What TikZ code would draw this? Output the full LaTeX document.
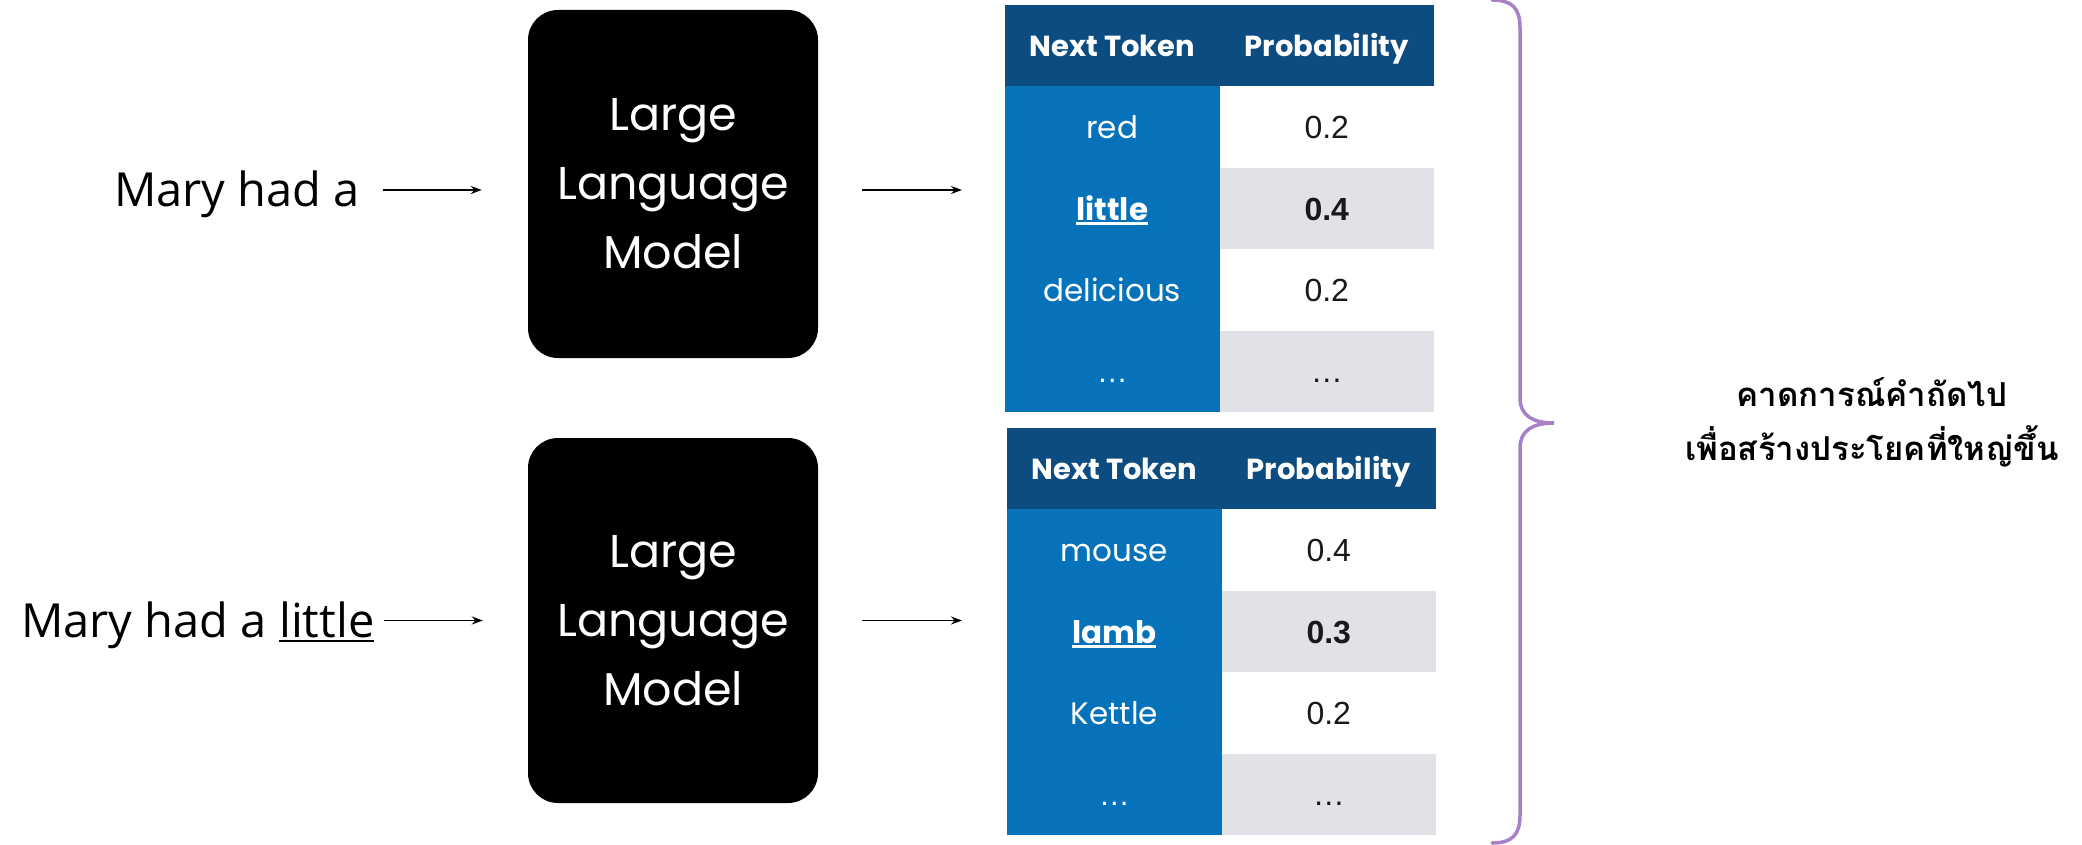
\documentclass[tikz,border=0pt]{standalone}
\usepackage{fontspec}
\setmainfont{Poppins}
\newfontfamily\maryfont{Open Sans}
\newfontfamily\numfont{Liberation Sans}
\newfontfamily\thaifont[Script=Thai]{Loma}
\usetikzlibrary{arrows.meta}
\definecolor{hdrblue}{RGB}{12,76,128}
\definecolor{colblue}{RGB}{6,114,186}
\definecolor{rowgray}{RGB}{225,226,231}
\definecolor{bracepurple}{RGB}{167,128,200}
\newcommand\ulx[3]{\setbox0\hbox{#1}\leavevmode\rlap{\rule[-#2]{\wd0}{#3}}\box0}
\tikzset{
  llm/.style={fill=black, rounded corners=30pt, minimum width=290pt, text=white, align=center,
    font=\fontsize{46}{69}\selectfont, inner sep=0pt},
  cell/.style={anchor=north west, minimum width=214.5pt, minimum height=81.4pt, inner sep=0pt, outer sep=0pt, text depth=0pt},
  hdr/.style={cell, fill=hdrblue, text=white, text height=21pt, font=\fontsize{29}{34}\selectfont\bfseries},
  tok/.style={cell, fill=colblue, text=white, text height=23pt, font=\fontsize{31}{36}\selectfont},
  pw/.style={cell, fill=white, text=black!90, text height=23pt, font=\numfont\fontsize{32}{36}\selectfont},
  pg/.style={pw, fill=rowgray},
  intext/.style={inner sep=0pt, anchor=base west, font=\maryfont\fontsize{47}{56}\selectfont},
  arr/.style={-{Stealth[length=11pt,width=8pt]}, line width=1.6pt},
  note/.style={align=center, inner sep=0pt, font=\thaifont\bfseries\fontsize{33}{54}\selectfont},
}
\begin{document}
\begin{tikzpicture}[x=1pt,y=-1pt]
\useasboundingbox[fill=white] (0,0) rectangle (2082,845);
% inputs
\node[intext] (in1) at (114,207) {Mary had a};
\node[intext] (in2) at (21,637) {Mary had a \ulx{little}{5pt}{2.5pt}};
% LLM boxes
\node[llm, minimum height=348pt] (box1) at (673,184) {Large\\Language\\Model};
\node[llm, minimum height=365pt] (box2) at (673,620.5) {Large\\Language\\Model};
% table 1
\node[hdr] (t1h1) at (1005,5) {Next Token};
\node[hdr] (t1h2) at (1219.5,5) {Probability};
\node[tok] (t1r1a) at (1005,86.4) {red};
\node[pw]  (t1r1b) at (1219.5,86.4) {0.2};
\node[tok] (t1r2a) at (1005,167.8) {\bfseries\ulx{little}{4.5pt}{2.5pt}};
\node[pg]  (t1r2b) at (1219.5,167.8) {\bfseries 0.4};
\node[tok] (t1r3a) at (1005,249.2) {delicious};
\node[pw]  (t1r3b) at (1219.5,249.2) {0.2};
\node[tok] (t1r4a) at (1005,330.6) {\numfont …};
\node[pg]  (t1r4b) at (1219.5,330.6) {…};
% table 2
\node[hdr] (t2h1) at (1007,428) {Next Token};
\node[hdr] (t2h2) at (1221.5,428) {Probability};
\node[tok] (t2r1a) at (1007,509.4) {mouse};
\node[pw]  (t2r1b) at (1221.5,509.4) {0.4};
\node[tok] (t2r2a) at (1007,590.8) {\bfseries\ulx{lamb}{4.5pt}{2.5pt}};
\node[pg]  (t2r2b) at (1221.5,590.8) {\bfseries 0.3};
\node[tok] (t2r3a) at (1007,672.2) {Kettle};
\node[pw]  (t2r3b) at (1221.5,672.2) {0.2};
\node[tok] (t2r4a) at (1007,753.6) {\numfont …};
\node[pg]  (t2r4b) at (1221.5,753.6) {…};
% arrows
\draw[arr, shorten <=23pt, shorten >=46pt] ([yshift=-6pt]box1.west -| in1.east) -- ([yshift=-6pt]box1.west);
\draw[arr, shorten <=9pt, shorten >=45pt] (box2.west -| in2.east) -- (box2.west);
\draw[arr, shorten <=44pt, shorten >=43pt] ([yshift=-6pt]box1.east) -- ([yshift=-6pt]box1.east -| t1h1.west);
\draw[arr, shorten <=44pt, shorten >=45pt] (box2.east) -- (box2.east -| t2h1.west);
% brace
\coordinate (btip) at (1554,423);
\draw[bracepurple, line width=3.5pt, line cap=round]
  (1492,0) .. controls (1512,0) and (1520,8) .. (1520,28) -- (1520,398)
  .. controls (1520,415) and (1532,423) .. (btip)
  .. controls (1532,423) and (1520,431) .. (1520,448) -- (1520,815)
  .. controls (1520,835) and (1512,843) .. (1492,843);
\node[note] (note) at (1872,422) {คาดการณ์คำถัดไป\\เพื่อสร้างประโยคที่ใหญ่ขึ้น};
\end{tikzpicture}
\end{document}
